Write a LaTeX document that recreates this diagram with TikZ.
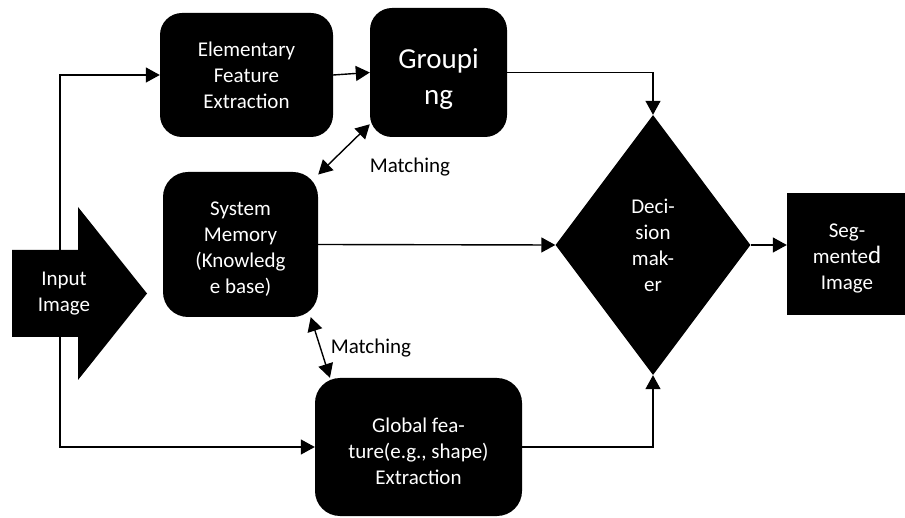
\documentclass[tikz,border=0pt]{standalone}
\usepackage{fontspec}
\setmainfont{Carlito}
\usetikzlibrary{shapes.geometric,arrows.meta}
\begin{document}
\begin{tikzpicture}[
			x=1pt,y=-1pt,
			>={Triangle[length=14pt,width=15pt]},
			block/.style={rectangle,rounded corners=22pt,fill=black,text=white,align=center,inner sep=0pt,font=\fontsize{21}{26}\selectfont},
			plain/.style={rectangle,fill=black,text=white,align=center,inner sep=0pt,font=\fontsize{21}{26}\selectfont},
			link/.style={line width=1.4pt},
			note/.style={font=\fontsize{21}{26}\selectfont}
		]
		\useasboundingbox (0,0) rectangle (905,518);
		\node[block,minimum width=173pt,minimum height=124pt] (elem) at (246.5,75) {Elementary\\Feature\\Extraction};
		\node[block,minimum width=137pt,minimum height=129pt,font=\fontsize{29}{36}\selectfont] (group) at (438.5,72.5) {\\[-4pt]Groupi\\ng};
		\node[block,minimum width=155pt,minimum height=145pt,rounded corners=25pt] (mem) at (240.5,244.5) {\\[-3pt]System\\Memory\\(Knowledg\\e base)};
		\node[block,minimum width=207pt,minimum height=138pt,rounded corners=25pt] (glob) at (418.5,447) {\\[-2pt]Global fea-\\ture(e.g., shape)\\Extraction};
		\node[diamond,fill=black,text=white,align=center,inner sep=0pt,minimum width=195pt,minimum height=260pt,font=\fontsize{21}{26}\selectfont] (dec) at (653,245) {Deci-\\sion\\mak-\\er};
		\node[plain,minimum width=120pt,minimum height=122pt] (seg) at (847,254) {\\[-4pt]Seg-\\mente{\fontsize{25}{26}\selectfont d}\\Image};
		\node[note] (match1) at (410,167) {Matching};
		\node[note] (match2) at (371,348) {Matching};
		\coordinate (bot) at (60,447);
		\draw[link,<->] (elem.west) -| (bot) -- (glob.west);
		\draw[link,->] (elem.east) -- (group.west);
		\draw[link,<->] (mem.42) -- (group.217);
		\draw[link,<->] (mem.-46) -- (glob.142);
		\draw[link,->] (group.east) -| (dec.north);
		\draw[link,->] (glob.east) -| (dec.south);
		\draw[link,->] (mem.east) -- (dec.west);
		\draw[link,->] (dec.east) -- (dec.east -| seg.west);
		\fill (12,250) -- (78,250) -- (78,207) -- (147,293.5) -- (78,380) -- (78,337) -- (12,337) -- cycle;
		\node[text=white,align=center,font=\fontsize{21}{26}\selectfont] (input) at (64,294) {Input\\Image};
	\end{tikzpicture}
\end{document}
